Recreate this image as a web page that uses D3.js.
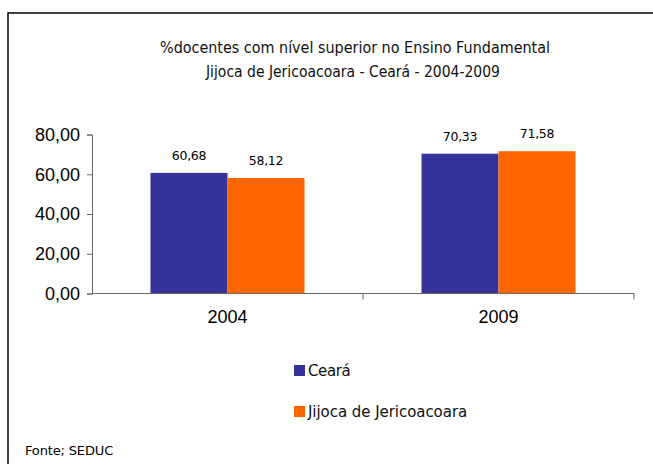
<!DOCTYPE html>
<html><head><meta charset="utf-8">
<script src="https://cdn.jsdelivr.net/npm/d3@7"></script>
<style>body{margin:0;background:#fff}svg{display:block}</style>
</head><body>
<svg id="c" width="653" height="464"></svg>
<script>
const categories = ["2004", "2009"];
const seriesNames = ["Ceará", "Jijoca de Jericoacoara"];
const cearaValues = [60.68, 70.33];
const jijocaValues = [58.12, 71.58];
const yTicks = [0, 20, 40, 60, 80];
const titleLines = ["%docentes com nível superior no Ensino Fundamental", "Jijoca de Jericoacoara - Ceará - 2004-2009"];
const sourceText = "Fonte; SEDUC";
const colors = ["#333399", "#FF6600"];

const series = [cearaValues, jijocaValues];
const svg = d3.select("#c");
const fmt = v => v.toFixed(2).replace(".", ",");

// frame
svg.append("path").attr("d", "M8,464 V13 H653").attr("fill", "none").attr("stroke", "#000").attr("stroke-width", 1.5);

// title
const tl = svg.append("g").attr("font-family", "DejaVu Sans").attr("font-size", 15).attr("fill", "#111");
tl.append("text").attr("x", 160).attr("y", 53).attr("textLength", 390).attr("lengthAdjust", "spacingAndGlyphs").text(titleLines[0]);
tl.append("text").attr("x", 206).attr("y", 77).attr("textLength", 294).attr("lengthAdjust", "spacingAndGlyphs").text(titleLines[1]);

const x0 = d3.scaleBand().domain(categories).range([92, 634]);
const x1 = d3.scaleBand().domain(seriesNames).range([0, 154]);
const y = d3.scaleLinear().domain([0, 80]).range([293.5, 134.5]);

// y axis
const ya = svg.append("g").attr("transform", "translate(92,0)")
  .call(d3.axisLeft(y).tickValues(yTicks).tickFormat(fmt).tickSize(5).tickPadding(7));
ya.select(".domain").attr("stroke", "#666");
ya.selectAll(".tick line").attr("stroke", "#666");
ya.selectAll("text").attr("font-family", "Liberation Sans").attr("font-size", 18).attr("fill", "#000");

// bars
const groups = svg.append("g").selectAll("g").data(categories).join("g")
  .attr("transform", d => `translate(${x0(d) + (x0.bandwidth() - 154) / 2},0)`);
groups.selectAll("rect").data((d, i) => series.map((s, j) => ({name: seriesNames[j], v: s[i], j})))
  .join("rect")
  .attr("x", d => x1(d.name)).attr("width", x1.bandwidth())
  .attr("y", d => y(d.v)).attr("height", d => y(0) - y(d.v))
  .attr("fill", d => colors[d.j]);
groups.selectAll("text").data((d, i) => series.map((s, j) => ({name: seriesNames[j], v: s[i], j})))
  .join("text")
  .attr("x", d => x1(d.name) + x1.bandwidth() / 2)
  .attr("y", d => y(d.v) - 13)
  .attr("text-anchor", "middle")
  .attr("font-family", "DejaVu Sans").attr("font-size", 12.5).attr("letter-spacing", -0.3)
  .attr("fill", "#000")
  .text(d => fmt(d.v));

// x axis
const xa = svg.append("g").attr("transform", "translate(0,293.5)")
  .call(d3.axisBottom(x0).tickSize(0).tickPadding(17));
xa.select(".domain").attr("stroke", "#666").attr("d", "M92,0H634");
xa.selectAll("text").attr("font-family", "Liberation Sans").attr("font-size", 18).attr("fill", "#000");
xa.append("g").selectAll("line").data(x0.domain().slice(1).map(c => x0(c)).concat([x0.range()[1]]))
  .join("line").attr("x1", d => d).attr("x2", d => d).attr("y1", 0).attr("y2", 6).attr("stroke", "#666");

// legend
const lg = svg.append("g").selectAll("g").data(seriesNames).join("g")
  .attr("transform", (d, i) => `translate(294,${365 + i * 41})`);
lg.append("rect").attr("width", 11).attr("height", 11).attr("fill", (d, i) => colors[i]);
lg.append("text").attr("x", 14).attr("y", 11).attr("font-family", "DejaVu Sans").attr("font-size", 15)
  .attr("letter-spacing", (d, i) => i === 0 ? -0.4 : -0.05).attr("fill", "#111").text(d => d);

// source
svg.append("text").attr("x", 25).attr("y", 455).attr("font-family", "DejaVu Sans").attr("font-size", 13)
  .attr("letter-spacing", -0.15).attr("fill", "#000").text(sourceText);
</script>
</body></html>
